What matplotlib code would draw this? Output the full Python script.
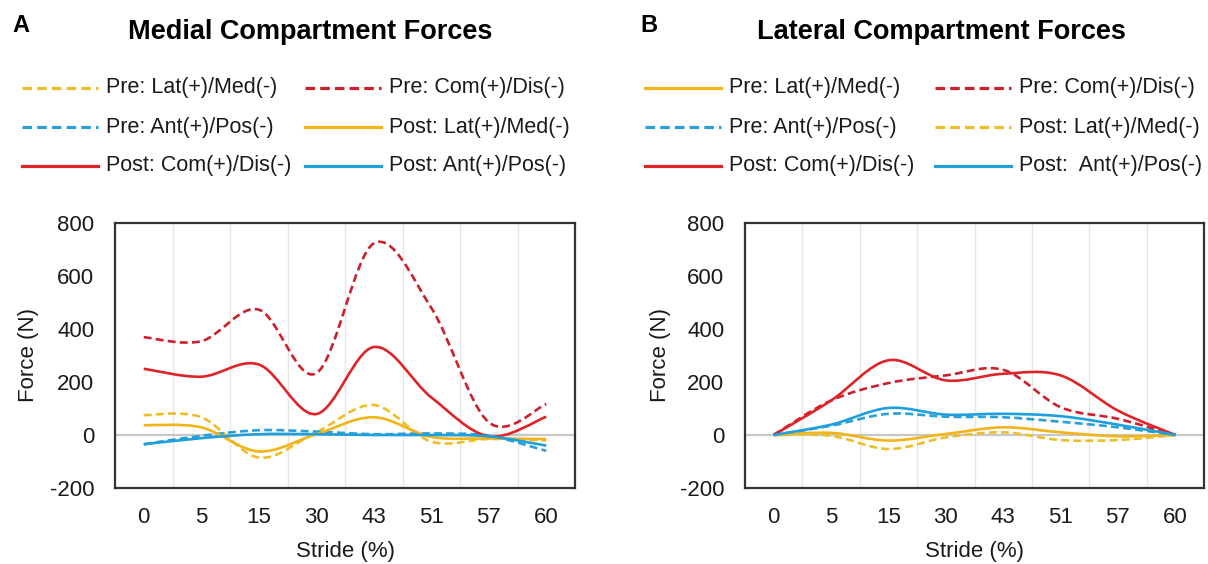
import numpy as np
import matplotlib
matplotlib.use('Agg')
import matplotlib.pyplot as plt
from matplotlib.path import Path
from matplotlib.patches import PathPatch
from matplotlib.lines import Line2D

plt.rcParams['font.family'] = ['Liberation Sans', 'DejaVu Sans']
plt.rcParams['axes.unicode_minus'] = False

stride = ['0', '5', '15', '30', '43', '51', '57', '60']

# medial compartment (N)
med_pre_lat = [75, 67, -85, 10, 113, -25, -15, -20]
med_pre_com = [369, 354, 473, 233, 723, 480, 48, 117]
med_pre_ant = [-35, -3, 18, 13, 3, 6, -3, -60]
med_post_lat = [37, 29, -62, 3, 67, -7, -13, -15]
med_post_com = [250, 220, 266, 79, 332, 142, -5, 69]
med_post_ant = [-35, -12, 3, 3, 0, 0, -5, -40]

# lateral compartment (N)
lat_pre_lat = [0, 8, -21, 4, 29, 10, -5, 0]
lat_pre_com = [0, 130, 196, 225, 246, 105, 61, 0]
lat_pre_ant = [0, 35, 80, 69, 67, 50, 29, 0]
lat_post_lat = [0, -3, -53, -9, 10, -19, -19, 0]
lat_post_com = [0, 130, 282, 206, 231, 225, 92, 0]
lat_post_ant = [0, 39, 102, 77, 80, 71, 39, 0]

RED = '#DE2428'
RED_D = '#CC202C'
YEL = '#F2B417'
YEL_D = '#EDBE2A'
BLU = '#1FA0DD'
BLU_D = '#2A9FD8'
DASH = (0, (3, 1.6))

W, H = 1208, 564


def smooth_line(ax, ys, color, ls):
    # excel-like smoothed line: cubic bezier between data points
    pts = np.column_stack([np.arange(len(ys)), ys]).astype(float)
    n = len(pts)
    verts = [pts[0]]
    codes = [Path.MOVETO]
    for i in range(n - 1):
        p0 = pts[i - 1] if i > 0 else pts[i]
        p3 = pts[i + 2] if i + 2 < n else pts[i + 1]
        c1 = pts[i] + (pts[i + 1] - p0) / 6
        c2 = pts[i + 1] - (p3 - pts[i]) / 6
        verts += [c1, c2, pts[i + 1]]
        codes += [Path.CURVE4] * 3
    patch = PathPatch(Path(verts, codes), fill=False, edgecolor=color,
                      linewidth=1.9, linestyle=ls, capstyle='butt', zorder=3)
    ax.add_patch(patch)


def setup(ax, ylab_x):
    ax.set_xlim(-0.5, 7.5)
    ax.set_ylim(-200, 800)
    ax.set_yticks(range(-200, 801, 200))
    ax.set_xticks(range(8))
    ax.set_xticklabels(stride)
    ax.tick_params(length=0, labelsize=16, labelcolor='#1a1a1a')
    ax.tick_params(axis='x', pad=14)
    ax.tick_params(axis='y', pad=15)
    for b in np.arange(0.5, 7, 1):
        ax.axvline(b, color='#E6E6E6', linewidth=1, zorder=0)
    ax.axhline(0, color='#C8C8C8', linewidth=1.6, zorder=1)
    for s in ax.spines.values():
        s.set_linewidth(1.6)
        s.set_color('#333333')
    ax.set_ylabel('Force (N)', fontsize=16, color='#1a1a1a')
    ax.set_xlabel('Stride (%)', fontsize=16, color='#1a1a1a')
    ax.yaxis.set_label_coords(ylab_x, 0.5)
    ax.xaxis.set_label_coords(0.5, -0.2)


def legend_entry(x_px, y_px, color, ls, text):
    fig.add_artist(Line2D([x_px / W, (x_px + 76) / W], [1 - y_px / H] * 2,
                          color=color, linestyle=ls, linewidth=2.3,
                          transform=fig.transFigure))
    fig.text((x_px + 84) / W, 1 - y_px / H, text, fontsize=15.5,
             va='center', ha='left', color='#1a1a1a')


fig = plt.figure(figsize=(W / 100, H / 100), dpi=100)
ax1 = fig.add_axes([115 / W, 76 / H, 460 / W, 265 / H])
ax2 = fig.add_axes([745 / W, 76 / H, 459 / W, 265 / H])
setup(ax1, -0.165)
setup(ax2, -0.161)

smooth_line(ax1, med_pre_lat, YEL_D, DASH)
smooth_line(ax1, med_pre_com, RED_D, DASH)
smooth_line(ax1, med_pre_ant, BLU_D, DASH)
smooth_line(ax1, med_post_lat, YEL, '-')
smooth_line(ax1, med_post_com, RED, '-')
smooth_line(ax1, med_post_ant, BLU, '-')

smooth_line(ax2, lat_pre_lat, YEL, '-')
smooth_line(ax2, lat_pre_com, RED_D, DASH)
smooth_line(ax2, lat_pre_ant, BLU_D, DASH)
smooth_line(ax2, lat_post_lat, YEL_D, DASH)
smooth_line(ax2, lat_post_com, RED, '-')
smooth_line(ax2, lat_post_ant, BLU, '-')

rows = [88, 127, 166]
# left panel legend
legend_entry(22, rows[0], YEL_D, DASH, 'Pre: Lat(+)/Med(-)')
legend_entry(305, rows[0], RED_D, DASH, 'Pre: Com(+)/Dis(-)')
legend_entry(22, rows[1], BLU_D, DASH, 'Pre: Ant(+)/Pos(-)')
legend_entry(305, rows[1], YEL, '-', 'Post: Lat(+)/Med(-)')
legend_entry(22, rows[2], RED, '-', 'Post: Com(+)/Dis(-)')
legend_entry(305, rows[2], BLU, '-', 'Post: Ant(+)/Pos(-)')
# right panel legend
legend_entry(645, rows[0], YEL, '-', 'Pre: Lat(+)/Med(-)')
legend_entry(935, rows[0], RED_D, DASH, 'Pre: Com(+)/Dis(-)')
legend_entry(645, rows[1], BLU_D, DASH, 'Pre: Ant(+)/Pos(-)')
legend_entry(935, rows[1], YEL_D, DASH, 'Post: Lat(+)/Med(-)')
legend_entry(645, rows[2], RED, '-', 'Post: Com(+)/Dis(-)')
legend_entry(935, rows[2], BLU, '-', 'Post:  Ant(+)/Pos(-)')

fig.text(12 / W, 1 - 26 / H, 'A', fontsize=17, fontweight='bold', va='center')
fig.text(640 / W, 1 - 26 / H, 'B', fontsize=17, fontweight='bold', va='center')
fig.text(128 / W, 1 - 32 / H, 'Medial Compartment Forces', fontsize=19.5,
         fontweight='bold', ha='left', va='center')
fig.text(757 / W, 1 - 32 / H, 'Lateral Compartment Forces', fontsize=19.5,
         fontweight='bold', ha='left', va='center')

plt.savefig('out.png', dpi=100)
